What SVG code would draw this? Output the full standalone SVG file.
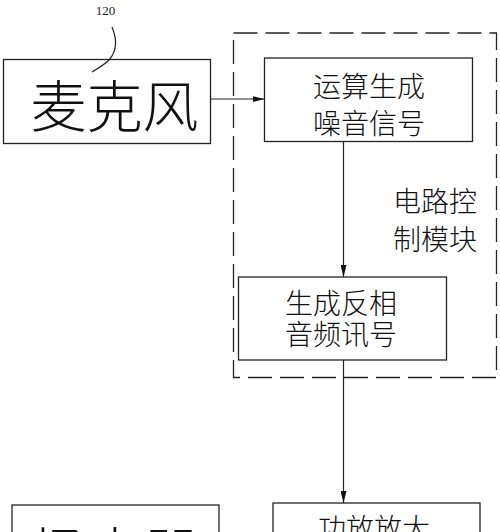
<svg xmlns="http://www.w3.org/2000/svg" width="500" height="532" viewBox="0 0 500 532">
<style>
.box{fill:none;stroke:#222;stroke-width:1.3}
.ln{fill:none;stroke:#222;stroke-width:1.2}
.dash{fill:none;stroke:#222;stroke-width:1.3;stroke-dasharray:24 8}
.t{font-family:"Noto Sans CJK SC","Noto Sans CJK JP",sans-serif;font-weight:300;fill:#111;text-anchor:middle;dominant-baseline:central}
.big{font-size:56px}
.mid{font-size:28px}
.num{font-family:"Liberation Serif",serif;font-size:13px;fill:#222;text-anchor:middle}
</style>
<defs>
<marker id="ah" viewBox="0 0 12 6" refX="12" refY="3" markerWidth="12" markerHeight="6" markerUnits="userSpaceOnUse" orient="auto">
<path d="M0,0 L12,3 L0,6 Z" fill="#111"/>
</marker>
</defs>
<rect width="500" height="532" fill="#fff"/>
<g id="module">
<rect class="dash" x="233.5" y="33" width="263" height="344.5"/>
<text class="t mid" x="435" y="200">电路控</text>
<text class="t mid" x="435" y="238">制模块</text>
</g>
<g id="mic">
<rect class="box" x="3.5" y="59.5" width="207" height="84"/>
<text class="t big" x="114.5" y="102">麦克风</text>
<text class="num" x="105.5" y="15">120</text>
<path class="ln" d="M112,27 C117,39 117,51 109,60 C104,65 97,69 92,72"/>
</g>
<g id="noise">
<rect class="box" x="264.5" y="58" width="208" height="83.5"/>
<text class="t mid" x="369" y="85">运算生成</text>
<text class="t mid" x="369" y="121.5">噪音信号</text>
</g>
<g id="invert">
<rect class="box" x="238.5" y="277" width="208" height="83"/>
<text class="t mid" x="341" y="301.5">生成反相</text>
<text class="t mid" x="341" y="332.5">音频讯号</text>
</g>
<g id="speaker">
<rect class="box" x="12" y="505" width="207" height="40"/>
<text class="t big" x="115" y="549">扬声器</text>
</g>
<g id="amp">
<rect class="box" x="273" y="503" width="207" height="40"/>
<text class="t mid" x="374" y="527">功放放大</text>
</g>
<g id="connectors">
<line class="ln" x1="210.5" y1="99" x2="264.5" y2="99" marker-end="url(#ah)"/>
<line class="ln" x1="343.5" y1="141.5" x2="343.5" y2="277" marker-end="url(#ah)"/>
<line class="ln" x1="343.5" y1="360" x2="343.5" y2="503" marker-end="url(#ah)"/>
</g>
</svg>
